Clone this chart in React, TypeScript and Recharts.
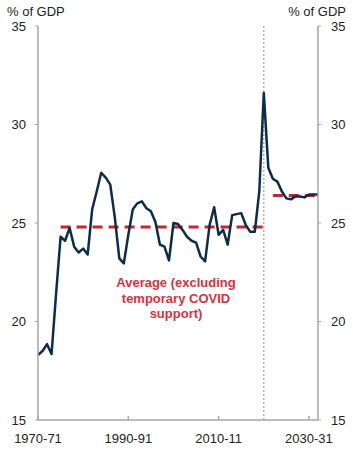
import React from 'react';
import { LineChart, Line, XAxis, YAxis, ReferenceLine } from 'recharts';

// Financial years 1970-71 .. 2032-33
const FIRST_YEAR = 1970;
const LAST_YEAR = 2032;
const years: string[] = [];
for (let y = FIRST_YEAR; y <= LAST_YEAR; y++) {
  years.push(`${y}-${String((y + 1) % 100).padStart(2, '0')}`);
}

// Payments, % of GDP
const payments = [
  18.3, 18.5, 18.85, 18.35, 21.4, 24.3, 24.1, 24.75, 23.8, 23.5,
  23.7, 23.4, 25.7, 26.6, 27.55, 27.3, 26.95, 25.3, 23.2, 22.95,
  24.4, 25.7, 26.0, 26.1, 25.75, 25.6, 25.05, 23.9, 23.8, 23.1,
  25.0, 24.95, 24.65, 24.3, 24.1, 24.0, 23.3, 23.05, 24.9, 25.8,
  24.4, 24.65, 23.9, 25.4, 25.45, 25.5, 24.9, 24.55, 24.55, 26.6,
  31.6, 27.8, 27.25, 27.1, 26.6, 26.25, 26.2, 26.35, 26.35, 26.3,
  26.45, 26.45, 26.45,
];

// Averages excluding temporary COVID support
const histAvg = 24.8;
const histAvgFrom = '1975-76';
const histAvgTo = '2020-21';
const projAvg = 26.4;
const projAvgFrom = '2022-23';
const projAvgTo = '2032-33';

const xTicks = ['1970-71', '1990-91', '2010-11', '2030-31'];
const yTicks = [15, 20, 25, 30, 35];
const covidYear = '2020-21';

const inRange = (yr: string, a: string, b: string) =>
  years.indexOf(yr) >= years.indexOf(a) && years.indexOf(yr) <= years.indexOf(b);

const data = years.map((yr, i) => ({
  year: yr,
  value: payments[i],
  histAvg: inRange(yr, histAvgFrom, histAvgTo) ? histAvg : null,
  projAvg: inRange(yr, projAvgFrom, projAvgTo) ? projAvg : null,
}));

const FONT = '"Liberation Sans", Arial, sans-serif';
const AXIS = '#a6a6a6';
const NAVY = '#0b2d4a';
const DASH_RED = '#c1272d';
const TEXT_RED = '#d7313e';

const XTick = (props: any) => {
  const { x, y, payload } = props;
  return (
    <g>
      <line x1={x} y1={y} x2={x} y2={y - 4} stroke={AXIS} strokeWidth={1.5} />
      <text x={x} y={y + 23} textAnchor="middle" fill="#222" fontSize={13} fontFamily={FONT}>
        {payload.value}
      </text>
    </g>
  );
};

const App: React.FC = () => {
  return (
    <div style={{ position: 'absolute', left: 0, top: 0, width: 353, height: 455, background: '#fff' }}>
      <LineChart width={353} height={455} data={data} margin={{ top: 26, right: 0, left: 0, bottom: 0 }}>
        <XAxis
          dataKey="year"
          ticks={xTicks}
          interval={0}
          height={35}
          tickLine={false}
          tickSize={0}
          tickMargin={0}
          tick={<XTick />}
          axisLine={{ stroke: AXIS, strokeWidth: 1.5 }}
        />
        <YAxis
          yAxisId="left"
          domain={[15, 35]}
          ticks={yTicks}
          width={38}
          tickSize={3}
          tickMargin={9}
          axisLine={{ stroke: AXIS, strokeWidth: 1.5 }}
          tickLine={{ stroke: AXIS }}
          tick={{ fill: '#222', fontSize: 13, fontFamily: FONT }}
        />
        <YAxis
          yAxisId="right"
          orientation="right"
          domain={[15, 35]}
          ticks={yTicks}
          width={35}
          tickSize={3}
          tickMargin={10}
          axisLine={{ stroke: AXIS, strokeWidth: 1.5 }}
          tickLine={{ stroke: AXIS }}
          tick={{ fill: '#222', fontSize: 13, fontFamily: FONT }}
        />
        <ReferenceLine yAxisId="left" x={covidYear} stroke="#a0a0a0" strokeWidth={1.2} strokeDasharray="2 2" />
        <Line
          yAxisId="left"
          dataKey="histAvg"
          stroke={DASH_RED}
          strokeWidth={3}
          strokeDasharray="10 6"
          dot={false}
          isAnimationActive={false}
        />
        <Line
          yAxisId="left"
          dataKey="projAvg"
          stroke={DASH_RED}
          strokeWidth={3}
          strokeDasharray="10 6"
          dot={false}
          isAnimationActive={false}
        />
        <Line
          yAxisId="left"
          dataKey="value"
          stroke={NAVY}
          strokeWidth={2.5}
          strokeLinejoin="round"
          dot={false}
          isAnimationActive={false}
        />
        {/* invisible twin so the right axis gets its ticks */}
        <Line
          yAxisId="right"
          dataKey="value"
          stroke="none"
          dot={false}
          activeDot={false}
          legendType="none"
          isAnimationActive={false}
        />
      </LineChart>
      <svg
        width={353}
        height={455}
        style={{ position: 'absolute', left: 0, top: 0, pointerEvents: 'none' }}
      >
        <text x={7} y={16} fontSize={13} fontFamily={FONT} fill="#222">% of GDP</text>
        <text x={346} y={16} fontSize={13} fontFamily={FONT} fill="#222" textAnchor="end">% of GDP</text>
        <g fontSize={13} fontWeight="bold" fontFamily={FONT} fill={TEXT_RED} textAnchor="middle">
          <text x={176} y={287}>Average (excluding</text>
          <text x={176} y={302.5}>temporary COVID</text>
          <text x={176} y={318}>support)</text>
        </g>
      </svg>
    </div>
  );
};

export default App;
